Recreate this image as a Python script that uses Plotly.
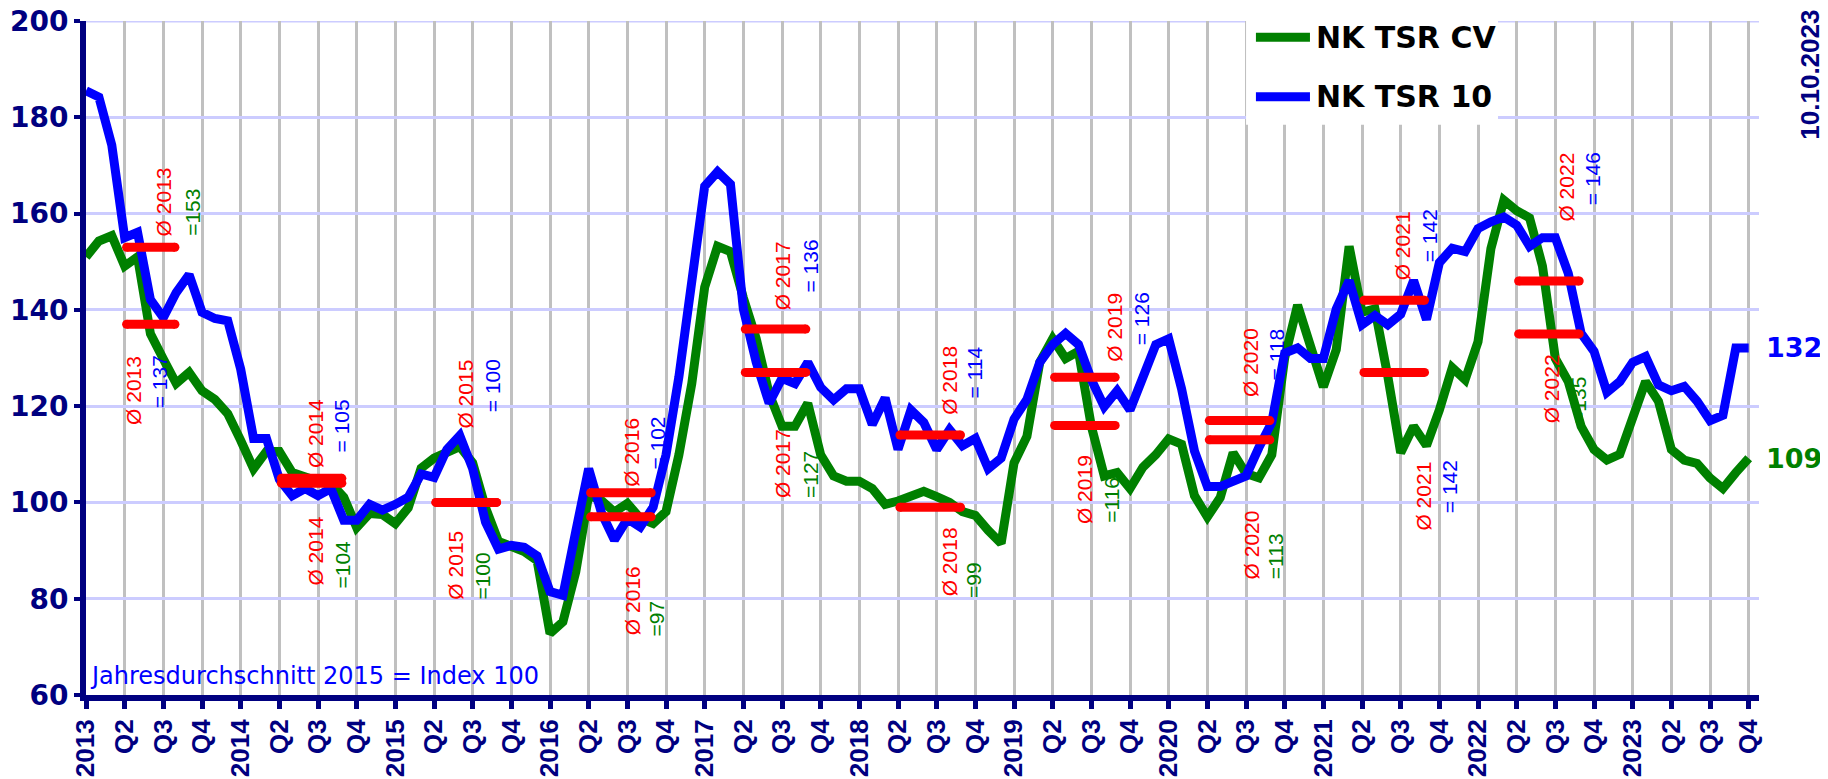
import plotly.graph_objects as go

# monthly index values, Jan 2013 .. Oct 2023 (Jahresdurchschnitt 2015 = 100)
tsr_cv = [151.0, 154.3, 155.4, 149.1, 151.0, 135.0, 129.8, 124.7, 127.0, 123.2, 121.4, 118.4,
          112.9, 107.0, 110.6, 110.6, 106.2, 105.1, 104.4, 104.0, 101.1, 94.8, 97.7, 97.5,
          95.6, 98.9, 107.1, 109.2, 110.2, 111.6, 108.2, 98.9, 91.9, 91.0, 89.8, 87.9,
          72.8, 75.2, 85.6, 101.5, 100.4, 98.0, 99.8, 96.7, 95.6, 98.1, 109.9, 124.7,
          144.7, 153.2, 152.1, 142.5, 134.0, 122.6, 115.8, 115.8, 120.6, 109.9, 105.5, 104.4,
          104.4, 102.9, 99.6, 100.3, 101.4, 102.3, 101.2, 100.0, 98.1, 97.3, 94.2, 91.5,
          108.2, 113.7, 129.1, 134.0, 129.9, 131.4, 115.8, 105.5, 106.2, 102.9, 107.3, 109.9,
          113.2, 112.1, 101.4, 97.0, 101.0, 110.3, 106.0, 105.1, 109.9, 130.0, 141.0, 132.8,
          124.0, 131.7, 153.2, 139.5, 140.2, 126.2, 110.3, 115.8, 111.8, 119.2, 128.0, 125.5,
          133.4, 152.7, 162.8, 160.6, 159.1, 149.1, 129.9, 125.1, 115.8, 111.0, 108.8, 110.0,
          117.3, 125.1, 121.0, 111.0, 108.8, 108.1, 105.1, 102.9, 106.2, 109.2]
tsr_10 = [185.5, 184.2, 174.2, 155.0, 156.1, 142.1, 138.4, 143.6, 147.3, 139.5, 138.2, 137.7,
          127.7, 113.3, 113.3, 104.8, 101.4, 102.9, 101.4, 102.9, 96.3, 96.3, 99.6, 98.4,
          99.6, 101.1, 105.9, 105.2, 111.0, 113.9, 107.0, 95.9, 90.3, 91.1, 90.7, 88.9,
          81.5, 80.7, 94.0, 107.0, 97.8, 92.2, 96.6, 94.9, 99.0, 109.9, 126.1, 145.4,
          165.7, 168.7, 166.1, 140.2, 129.1, 120.6, 125.8, 124.7, 129.1, 123.9, 121.3, 123.6,
          123.6, 116.2, 121.7, 111.0, 119.2, 116.6, 111.0, 115.1, 111.8, 113.3, 107.0, 109.2,
          117.3, 121.4, 129.1, 132.8, 135.1, 132.8, 125.5, 119.9, 123.2, 119.2, 126.2, 132.8,
          134.0, 123.6, 110.7, 103.3, 103.3, 104.4, 105.5, 111.4, 116.6, 131.0, 132.1, 129.9,
          129.9, 140.2, 146.1, 136.9, 138.8, 136.9, 139.1, 146.1, 138.0, 149.8, 152.8, 152.1,
          156.9, 158.3, 159.3, 157.6, 153.2, 155.0, 155.0, 147.6, 135.1, 131.4, 122.9, 125.1,
          129.1, 130.3, 124.4, 123.2, 124.1, 121.0, 117.0, 118.1, 132.1, 132.1]
months = list(range(len(tsr_10)))

years = [2013, 2014, 2015, 2016, 2017, 2018, 2019, 2020, 2021, 2022, 2023]
tick_text = []
for yr in years:
    tick_text += [str(yr), 'Q2', 'Q3', 'Q4']
tick_pos = [3 * i for i in range(len(tick_text))]
y_ticks = [60, 80, 100, 120, 140, 160, 180, 200]

# annual averages (red bars) and their labels
avg_years = [2013, 2014, 2015, 2016, 2017, 2018, 2019, 2020, 2021, 2022]
avg_hi = [153, 105, 100, 102, 136, 114, 126, 117, 142, 146]
avg_lo = [137, 104, 100, 97, 127, 99, 116, 113, 127, 135]
txt_hi = ['=153', '= 105', '= 100', '= 102', '= 136', '= 114', '= 126', '= 118', '= 142', '= 146']
txt_lo = ['= 137', '=104', '=100', '=97', '=127', '=99', '=116', '=113', '= 142', '=135']

NAVY = '#000080'
RED = '#ff0000'
BLUE = '#0000ff'
GREEN = '#008000'
FONT = 'Liberation Sans, Arial, sans-serif'
WIDE = 'DejaVu Sans, Verdana, sans-serif'

col_hi = [GREEN] + [BLUE] * 9
col_lo = [BLUE] + [GREEN] * 7 + [BLUE, GREEN]

# label placement: (month offset in year, index value) for Ø upper, = upper, Ø lower, = lower
label_pos = [
    [(6.04, 162.5), (8.2, 160.3), (3.7, 123.3), (5.68, 125.0)],
    [(5.77, 114.2), (7.83, 115.9), (5.77, 89.8), (7.9, 87.2)],
    [(5.44, 122.5), (7.6, 124.2), (4.6, 87.0), (6.8, 84.8)],
    [(6.35, 110.5), (8.37, 112.4), (6.36, 79.7), (8.26, 76.0)],
    [(6.05, 147.1), (8.25, 149.0), (6.05, 108.1), (8.25, 105.7)],
    [(6.97, 125.3), (8.9, 127.0), (6.97, 87.6), (8.9, 83.9)],
    [(7.8, 136.4), (9.87, 138.1), (5.48, 102.7), (7.5, 100.5)],
    [(6.4, 129.0), (8.35, 130.8), (6.4, 91.1), (8.35, 88.9)],
    [(6.1, 153.4), (8.2, 155.3), (7.8, 101.4), (9.8, 103.3)],
    [(6.9, 165.6), (8.9, 167.3), (5.7, 123.6), (7.8, 121.2)],
]

fig = go.Figure()
fig.add_trace(go.Scatter(x=months, y=tsr_cv, mode='lines', name='NK TSR CV',
                         line=dict(color=GREEN, width=9), showlegend=False))
fig.add_trace(go.Scatter(x=months, y=tsr_10, mode='lines', name='NK TSR 10',
                         line=dict(color=BLUE, width=9), showlegend=False))

bx, by = [], []
for i, yr in enumerate(avg_years):
    start = (yr - 2013) * 12 + 3.15
    end = (yr - 2013) * 12 + (6.9 if yr == 2013 else 7.85)
    for v in (avg_hi[i], avg_lo[i]):
        bx += [start, end, None]
        by += [v, v, None]
fig.add_trace(go.Scatter(x=bx, y=by, mode='lines+markers', showlegend=False,
                         line=dict(color=RED, width=9), marker=dict(color=RED, size=9)))

anns = []
for i, yr in enumerate(avg_years):
    base = (yr - 2013) * 12
    items = [('Ø %d' % yr, RED), (txt_hi[i], col_hi[i]), ('Ø %d' % yr, RED), (txt_lo[i], col_lo[i])]
    for (t, c), (dx, v) in zip(items, label_pos[i]):
        anns.append(dict(x=base + dx, y=v, xref='x', yref='y', text=t, textangle=-90,
                         showarrow=False, xanchor='center', yanchor='middle',
                         font=dict(family=FONT, size=21, color=c)))

# end values on the right
anns.append(dict(x=1.003, y=tsr_10[-1], xref='paper', yref='y', text='%d' % round(tsr_10[-1]),
                 showarrow=False, xanchor='left', yanchor='middle',
                 font=dict(family=WIDE, size=27, color=BLUE, weight='bold')))
anns.append(dict(x=1.003, y=tsr_cv[-1], xref='paper', yref='y', text='%d' % round(tsr_cv[-1]),
                 showarrow=False, xanchor='left', yanchor='middle',
                 font=dict(family=WIDE, size=27, color=GREEN, weight='bold')))
anns.append(dict(x=1.0305, y=0.821, xref='paper', yref='paper', text='10.10.2023', textangle=-90,
                 showarrow=False, xanchor='center', yanchor='bottom',
                 font=dict(family=FONT, size=26, color=NAVY, weight='bold')))
anns.append(dict(x=0.0012, y=0.028, xref='paper', yref='paper', text='Jahresdurchschnitt 2015 = Index 100',
                 showarrow=False, xanchor='left', yanchor='middle',
                 font=dict(family=WIDE, size=24, color=BLUE)))

# top grid line (plotly drops it at the range edge)
shapes = [dict(type='line', xref='paper', yref='y', x0=0, x1=1, y0=y_ticks[-1], y1=y_ticks[-1],
               line=dict(color='#ccccff', width=3), layer='below')]
# legend box
shapes.append(dict(type='rect', xref='paper', yref='paper', x0=0.6934, x1=0.844, y0=0.846, y1=1.03,
                   fillcolor='white', line=dict(width=0), layer='above'))
for name, col, yy in [('NK TSR CV', GREEN, 0.976), ('NK TSR 10', BLUE, 0.8876)]:
    shapes.append(dict(type='line', xref='paper', yref='paper', x0=0.6993, x1=0.7316, y0=yy, y1=yy,
                       line=dict(color=col, width=9), layer='above'))
    anns.append(dict(x=0.734, y=yy, xref='paper', yref='paper', text=name, showarrow=False,
                     xanchor='left', yanchor='middle',
                     font=dict(family=WIDE, size=30, color='black', weight='bold')))

# page body adds an 8px offset, so the figure is a bit smaller than the window
fig.update_layout(
    width=1820, height=771,
    margin=dict(l=78, r=69, t=13, b=84),
    plot_bgcolor='white', paper_bgcolor='white',
    annotations=anns, shapes=shapes, showlegend=False,
    xaxis=dict(range=[0, 129.8], tickmode='array', tickvals=tick_pos, ticktext=tick_text,
               tickangle=-90, tickfont=dict(family=FONT, size=26, color=NAVY, weight='bold'),
               showline=True, linecolor=NAVY, linewidth=6, ticks='outside', ticklen=8,
               tickwidth=5, tickcolor=NAVY, showgrid=True, gridcolor='#c0c0c0', gridwidth=3,
               zeroline=False, automargin=False, ticklabeloverflow='allow'),
    yaxis=dict(range=[60, 200], tickmode='array', tickvals=y_ticks,
               tickfont=dict(family=WIDE, size=28, color=NAVY, weight='bold'),
               showline=True, linecolor=NAVY, linewidth=6, ticks='outside', ticklen=6,
               tickwidth=4, tickcolor=NAVY, showgrid=True, gridcolor='#ccccff', gridwidth=3,
               zeroline=False, automargin=False, ticklabeloverflow='allow'),
)

fig.write_html('out.html')
